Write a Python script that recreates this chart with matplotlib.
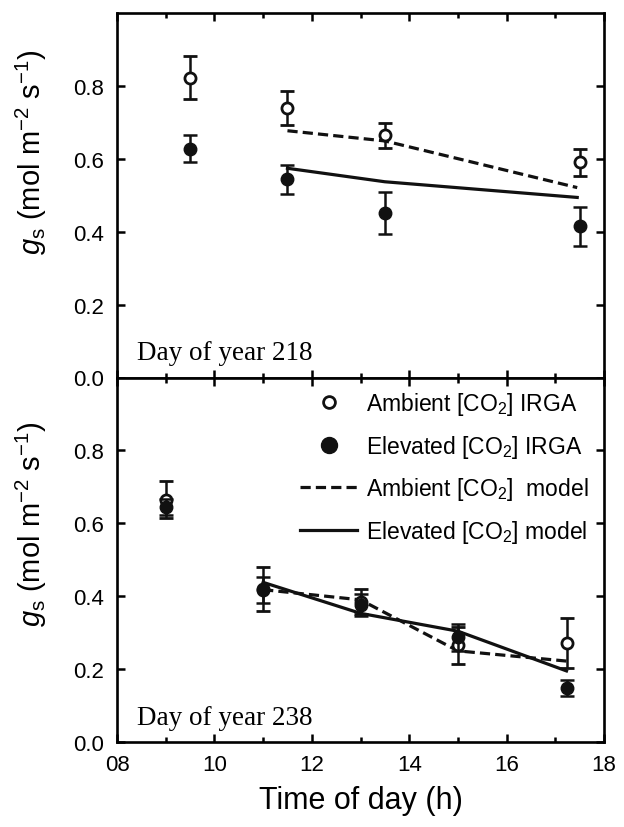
import numpy as np
import matplotlib
matplotlib.use("Agg")
import matplotlib.pyplot as plt
from matplotlib.ticker import MultipleLocator, FuncFormatter
from matplotlib.lines import Line2D

plt.rcParams['font.family'] = ['Liberation Sans', 'DejaVu Sans']
plt.rcParams['mathtext.fontset'] = 'custom'
plt.rcParams['mathtext.rm'] = 'Liberation Sans'
plt.rcParams['mathtext.it'] = 'Liberation Sans:italic'

# day 218
hours_218 = [9.5, 11.5, 13.5, 17.5]
amb_218 = [0.823, 0.739, 0.664, 0.590]
amb_218_err = [0.058, 0.047, 0.033, 0.038]
ele_218 = [0.628, 0.544, 0.452, 0.415]
ele_218_err = [0.038, 0.040, 0.057, 0.054]
model_hours_218 = [11.5, 13.5, 17.45]
amb_model_218 = [0.677, 0.649, 0.521]
ele_model_218 = [0.574, 0.537, 0.494]

# day 238
hours_238 = [9.0, 11.0, 13.0, 15.0, 17.23]
amb_238 = [0.665, 0.420, 0.385, 0.265, 0.272]
amb_238_err = [0.050, 0.060, 0.035, 0.050, 0.068]
ele_238 = [0.645, 0.417, 0.375, 0.287, 0.148]
ele_238_err = [0.023, 0.035, 0.030, 0.038, 0.022]
model_hours_238 = [11.0, 13.0, 15.0, 17.23]
amb_model_238 = [0.418, 0.390, 0.250, 0.222]
ele_model_238 = [0.438, 0.353, 0.304, 0.195]

ylabel = r'$g_\mathrm{s}$ (mol m$^{-2}$ s$^{-1}$)'
ink = '#111111'
dash = (0, (3.2, 1.6))

fig = plt.figure(figsize=(6.24, 8.28), dpi=100)
gs = fig.add_gridspec(2, 1, left=117/624, right=604/624, top=1-14/828,
                      bottom=1-743/828, hspace=0)
ax1 = fig.add_subplot(gs[0])
ax2 = fig.add_subplot(gs[1], sharex=ax1)


def draw(ax, h, amb, amb_err, ele, ele_err, mh, amb_m, ele_m, label, ylab_y):
    ax.plot(mh, amb_m, color=ink, lw=2.3, ls=dash, zorder=2)
    ax.plot(mh, ele_m, color=ink, lw=2.3, ls='-', zorder=2)
    ax.errorbar(h, amb, yerr=amb_err, fmt='o', color=ink, mfc='white',
                mec=ink, mew=2, ms=8, elinewidth=1.8, capsize=5,
                capthick=1.8, zorder=3)
    ax.errorbar(h, ele, yerr=ele_err, fmt='o', color=ink, mfc=ink,
                mec=ink, ms=9, elinewidth=1.8, capsize=5,
                capthick=1.8, zorder=4)
    ax.set_ylim(0, 1.0)
    ax.set_yticks([0.0, 0.2, 0.4, 0.6, 0.8])
    ax.yaxis.set_major_formatter(FuncFormatter(lambda v, p: '%.1f' % v))
    ax.set_ylabel(ylabel, fontsize=21)
    ax.yaxis.set_label_coords(-0.14, ylab_y)
    ax.text(20/487, 0.05, label, transform=ax.transAxes, fontsize=19.5,
            family='Liberation Serif', va='baseline', ha='left')
    for s in ax.spines.values():
        s.set_linewidth(1.9)
    ax.tick_params(axis='both', which='both', direction='in', top=True,
                   right=True, width=1.8, labelsize=16)
    ax.tick_params(axis='both', which='major', length=5.5)
    ax.tick_params(axis='both', which='minor', length=3.5)
    ax.tick_params(axis='y', pad=9)
    ax.tick_params(axis='x', pad=9)


draw(ax1, hours_218, amb_218, amb_218_err, ele_218, ele_218_err,
     model_hours_218, amb_model_218, ele_model_218, 'Day of year 218', 0.62)
draw(ax2, hours_238, amb_238, amb_238_err, ele_238, ele_238_err,
     model_hours_238, amb_model_238, ele_model_238, 'Day of year 238', 0.60)

ax2.set_xlim(8, 18)
ax2.xaxis.set_major_locator(MultipleLocator(2))
ax2.xaxis.set_minor_locator(MultipleLocator(1))
ax2.xaxis.set_major_formatter(FuncFormatter(lambda v, p: '%02d' % v))
plt.setp(ax1.get_xticklabels(), visible=False)
ax2.set_xlabel('Time of day (h)', fontsize=22, labelpad=7)

# legend
handles = [
    Line2D([], [], ls='none', marker='o', mfc='white', mec=ink, mew=2, ms=8.5),
    Line2D([], [], ls='none', marker='o', mfc=ink, mec=ink, ms=11.5),
    Line2D([], [], color=ink, lw=2.3, ls=dash),
    Line2D([], [], color=ink, lw=2.3),
]
labels = ['Ambient [CO$_2$] IRGA', 'Elevated [CO$_2$] IRGA',
          'Ambient [CO$_2$]  model', 'Elevated [CO$_2$] model']
ax2.legend(handles, labels, loc='upper left', bbox_to_anchor=(183/487, 0.965),
           frameon=False, fontsize=16.5, handlelength=2.5, handletextpad=0.4,
           labelspacing=0.68, borderpad=0, borderaxespad=0)

fig.savefig('out.png', dpi=100)
